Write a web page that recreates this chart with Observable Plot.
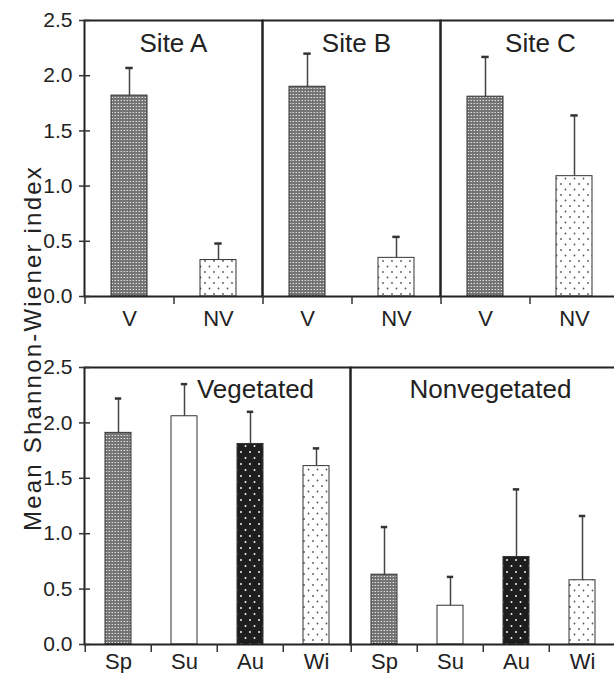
<!DOCTYPE html>
<html><head><meta charset="utf-8">
<script src="https://cdn.jsdelivr.net/npm/d3@7"></script>
<script src="https://cdn.jsdelivr.net/npm/@observablehq/plot@0.6"></script>
<style>
body{margin:0;background:#fff;overflow:hidden;}
#wrap{position:relative;width:614px;height:673px;overflow:hidden;font-family:"Liberation Sans",Arial,sans-serif;background:#fff;}
#wrap svg{max-width:none !important;display:block;}
#ylab{position:absolute;left:33px;top:348px;transform:translate(-50%,-50%) rotate(-90deg);font-size:24px;line-height:24px;letter-spacing:2.2px;white-space:nowrap;color:#222;}
</style></head><body>
<svg width="0" height="0" style="position:absolute">
<defs>
<pattern id="pChk" width="3" height="3" patternUnits="userSpaceOnUse">
<rect width="3" height="3" fill="#747474"/>
<rect x="1" y="1" width="1" height="1" fill="#e2e2e2"/>
<rect x="0" y="1" width="1" height="1" fill="#a0a0a0"/>
</pattern>
<pattern id="pDot" width="9" height="11" patternUnits="userSpaceOnUse">
<rect width="9" height="11" fill="#ffffff"/>
<circle cx="2.5" cy="2.5" r="0.9" fill="#555"/>
<circle cx="7" cy="8" r="0.9" fill="#555"/>
</pattern>
<pattern id="pBlk" width="9" height="12" patternUnits="userSpaceOnUse">
<rect width="9" height="12" fill="#1e1e1e"/>
<circle cx="2.5" cy="3" r="1" fill="#f4f4f4"/>
<circle cx="7" cy="9" r="1" fill="#f4f4f4"/>
</pattern>
</defs>
</svg>
<div id="wrap"><div id="top"></div><div id="bottom"></div><div id="ylab">Mean Shannon-Wiener index</div></div>
<script>
// ---- data ----
const sites = ["Site A", "Site B", "Site C"];
const treatments = ["V", "NV"];
const siteMeanV = [1.82, 1.90, 1.81];
const siteUpperV = [2.07, 2.20, 2.17];
const siteMeanNV = [0.33, 0.35, 1.09];
const siteUpperNV = [0.48, 0.54, 1.64];

const habitats = ["Vegetated", "Nonvegetated"];
const seasons = ["Sp", "Su", "Au", "Wi"];
const vegMean = [1.91, 2.06, 1.81, 1.61];
const vegUpper = [2.22, 2.35, 2.10, 1.77];
const nonvegMean = [0.63, 0.35, 0.79, 0.58];
const nonvegUpper = [1.06, 0.61, 1.40, 1.16];

const yTicks = [0, 0.5, 1.0, 1.5, 2.0, 2.5];

// ---- tables ----
const topData = sites.flatMap((s, i) => [
  {site: s, trt: "V", mean: siteMeanV[i], upper: siteUpperV[i]},
  {site: s, trt: "NV", mean: siteMeanNV[i], upper: siteUpperNV[i]}
]);
const botData = habitats.flatMap((h, j) => seasons.map((s, i) => ({
  hab: h, season: s,
  mean: j === 0 ? vegMean[i] : nonvegMean[i],
  upper: j === 0 ? vegUpper[i] : nonvegUpper[i]
})));

const font = "Liberation Sans, Arial, sans-serif";
const fillFor = {V: "url(#pChk)", NV: "url(#pDot)", Sp: "url(#pChk)", Su: "#ffffff", Au: "url(#pBlk)", Wi: "url(#pDot)"};

function panel({data, fxKey, xKey, fxDomain, xDomain, width, height, marginTop, marginBottom, titleDx, titleDy, labelDy}) {
  const facetW = (width - 84) / fxDomain.length;
  const step = facetW / xDomain.length;
  const bw = step * 0.4;
  const first = () => fxDomain[0];
  const marks = [];
  for (const cat of xDomain) {
    marks.push(Plot.rectY(data.filter(d => d[xKey] === cat), {
      fx: fxKey, x: xKey, y: "mean", fill: fillFor[cat], stroke: "#333", strokeWidth: 1
    }));
  }
  marks.push(
    Plot.ruleX(data, {fx: fxKey, x: xKey, y1: "mean", y2: "upper", stroke: "#444", strokeWidth: 1.5}),
    Plot.tickY(data, {fx: fxKey, x: xKey, y: "upper", stroke: "#333", strokeWidth: 2.5,
      insetLeft: (bw - 7) / 2, insetRight: (bw - 7) / 2}),
    Plot.frame({stroke: "#222", strokeWidth: 2}),
    Plot.ruleX(data, {fx: fxKey, x: xKey, y1: 0, y2: 0, insetTop: 8, dx: -step / 2, stroke: "#333", strokeWidth: 1.5}),
    Plot.tickY(yTicks, {y: d => d, fx: first, insetLeft: -5, insetRight: facetW - 6, stroke: "#333", strokeWidth: 1.5}),
    Plot.text(yTicks, {y: d => d, fx: first, text: d3.format(".1f"), frameAnchor: "left", textAnchor: "end",
      lineAnchor: "middle", dx: -12, fontSize: 21, fill: "#222"}),
    Plot.text(data, {fx: fxKey, x: xKey, y: () => 0, text: xKey, lineAnchor: "middle", dy: labelDy, fontSize: 22, fill: "#222"})
  );
  fxDomain.forEach((t, i) => {
    marks.push(Plot.text([t], {fx: d => d, text: d => d, frameAnchor: "top", lineAnchor: "middle",
      dy: titleDy, dx: titleDx[i], fontSize: 26, fill: "#222"}));
  });
  return Plot.plot({
    width, height, marginLeft: 84, marginRight: 0, marginTop, marginBottom,
    style: {fontFamily: font, fontSize: "20px", color: "#222", background: "white", overflow: "visible", maxWidth: "none"},
    fx: {domain: fxDomain, padding: 0, axis: null, label: null},
    x: {domain: xDomain, paddingInner: 0.6, paddingOuter: 0.3, label: null, axis: null},
    y: {domain: [0, 2.5], label: null, axis: null},
    marks
  });
}

document.getElementById("top").append(panel({
  data: topData, fxKey: "site", xKey: "trt", fxDomain: sites, xDomain: treatments,
  width: 618, height: 335, marginTop: 20, marginBottom: 39,
  titleDx: [0, 5, 11], titleDy: 23, labelDy: 22
}));
document.getElementById("bottom").append(panel({
  data: botData, fxKey: "hab", xKey: "season", fxDomain: habitats, xDomain: seasons,
  width: 616, height: 338, marginTop: 32, marginBottom: 29,
  titleDx: [38, 7], titleDy: 22, labelDy: 17
}));
</script>
</body></html>
